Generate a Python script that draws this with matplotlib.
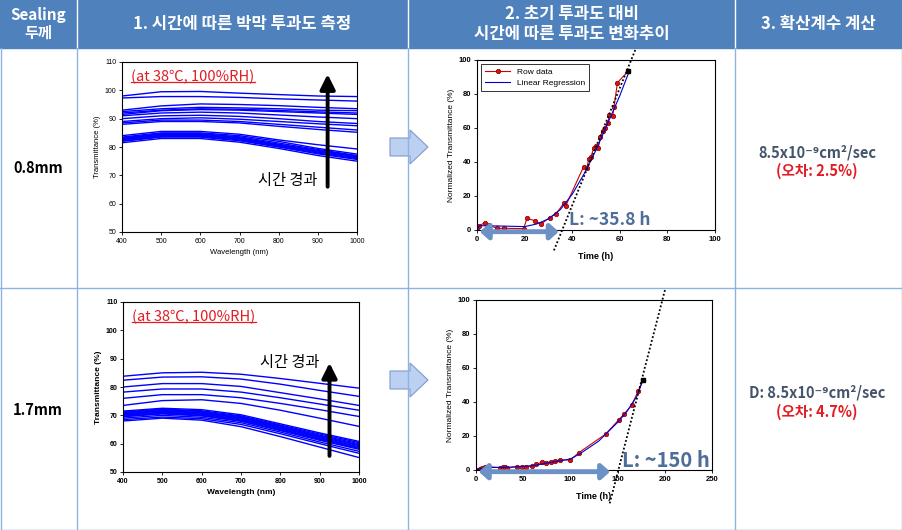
import numpy as np
import matplotlib.pyplot as plt
from matplotlib.patches import Rectangle, Polygon, FancyArrowPatch
from matplotlib.lines import Line2D

plt.rcParams['font.family'] = ['Noto Sans CJK KR', 'DejaVu Sans']

# --- data -------------------------------------------------------------
col_titles = ['Sealing\n두께', '1. 시간에 따른 박막 투과도 측정',
              '2. 초기 투과도 대비\n시간에 따른 투과도 변화추이', '3. 확산계수 계산']
thickness = ['0.8mm', '1.7mm']
diff_coef = ['8.5x10⁻⁹cm²/sec', 'D: 8.5x10⁻⁹cm²/sec']
error_txt = ['(오차: 2.5%)', '(오차: 4.7%)']
lag_labels = ['L: ~35.8 h', 'L: ~150 h']

wavelength = [400, 500, 600, 700, 800, 900, 1000]
spectra_08 = [
    [98.0, 99.5, 99.6, 99.0, 98.5, 98.0, 97.8],
    [97.3, 97.8, 97.8, 97.5, 97.0, 96.6, 96.2],
    [93.0, 94.5, 95.2, 95.0, 94.6, 94.0, 93.5],
    [92.5, 93.5, 94.0, 93.8, 93.5, 93.0, 92.8],
    [92.0, 93.0, 93.5, 93.3, 92.9, 92.4, 92.0],
    [91.5, 92.8, 93.2, 93.0, 92.5, 92.0, 91.5],
    [91.0, 92.0, 92.3, 92.0, 91.3, 90.6, 90.0],
    [90.0, 91.0, 91.2, 90.8, 90.0, 89.0, 88.3],
    [89.0, 90.0, 90.3, 89.8, 89.0, 88.2, 87.5],
    [88.5, 89.5, 89.5, 89.0, 88.0, 87.0, 86.0],
    [88.0, 89.0, 89.0, 88.5, 87.3, 86.2, 85.2],
    [84.0, 85.5, 85.5, 84.5, 82.5, 80.8, 79.3],
    [83.5, 85.0, 85.0, 84.0, 82.0, 79.5, 77.5],
    [83.2, 84.7, 84.7, 83.6, 81.4, 79.1, 77.0],
    [83.0, 84.5, 84.5, 83.3, 81.0, 78.8, 76.8],
    [82.7, 84.2, 84.2, 83.0, 80.7, 78.5, 76.5],
    [82.5, 84.0, 84.0, 82.8, 80.5, 78.2, 76.2],
    [82.2, 83.7, 83.7, 82.5, 80.2, 77.9, 75.9],
    [82.0, 83.5, 83.5, 82.2, 80.0, 77.6, 75.6],
    [81.5, 83.0, 83.0, 81.7, 79.5, 77.0, 75.0],
]
spectra_17 = [
    [83.8, 85.0, 85.2, 84.5, 83.0, 81.3, 79.6],
    [82.4, 83.5, 83.6, 82.8, 81.0, 78.8, 76.7],
    [80.0, 81.2, 81.2, 80.2, 78.0, 75.8, 73.5],
    [78.2, 79.3, 79.3, 78.2, 76.2, 74.0, 71.8],
    [76.0, 77.3, 77.3, 76.2, 74.2, 72.0, 69.6],
    [73.5, 75.2, 75.5, 74.2, 71.8, 69.0, 66.1],
    [71.5, 72.5, 72.0, 70.2, 67.0, 63.8, 60.8],
    [71.2, 72.2, 71.6, 69.8, 66.6, 63.4, 60.4],
    [71.0, 72.0, 71.3, 69.5, 66.3, 63.0, 60.0],
    [70.7, 71.7, 71.0, 69.2, 66.0, 62.7, 59.6],
    [70.5, 71.5, 70.8, 69.0, 65.8, 62.4, 59.3],
    [70.2, 71.2, 70.5, 68.7, 65.5, 62.1, 58.9],
    [70.0, 71.0, 70.3, 68.4, 65.2, 61.8, 58.6],
    [69.7, 70.7, 70.0, 68.1, 64.9, 61.5, 58.3],
    [69.5, 70.5, 69.8, 67.9, 64.6, 61.2, 58.0],
    [69.0, 70.0, 69.3, 67.4, 64.1, 60.6, 57.3],
    [68.5, 69.4, 68.8, 66.8, 63.5, 60.0, 56.6],
    [68.0, 69.0, 68.3, 66.0, 62.5, 58.8, 55.1],
]

time_08 = [0, 1, 3.2, 4.9, 8.4, 11.2, 19.6, 21, 24.2, 26.9, 30.5, 33.1, 36.5, 37.3,
           44.8, 46.2, 46.9, 47.8, 49, 49.9, 51, 51.7, 52.9, 53.8, 55, 55.5, 57,
           57.6, 59, 63.6]
norm_08 = [0, 2.5, 4.3, 2.9, 1, 1, 0.8, 6.9, 5.5, 3.5, 7.3, 9.4, 15.7, 14.3,
           37.3, 36.3, 41.6, 42.7, 48, 49.4, 48.2, 54.9, 58.2, 59.8, 63, 67.6, 67,
           72.5, 86.7, 93.5]
fit_t_08 = [0, 1, 5, 20, 25, 30, 35, 40, 45, 50, 55, 60, 64]
fit_v_08 = [0, 2.5, 2.5, 2, 3.5, 6.5, 12, 21, 33, 47, 63, 79, 93.5]

time_17 = [0, 2.5, 4, 6, 9.5, 11, 25.5, 29, 31, 33, 43, 48.5, 53, 59, 63.6, 70,
           74, 79, 84, 89, 100, 109, 137.5, 151, 157, 165, 172, 177]
norm_17 = [0, 0, 0.5, 1, 2, 2, 1.4, 1.6, 2, 1, 2, 2, 2, 2.4, 3.3, 4.5, 4.1, 4.9,
           5.3, 5.9, 5.9, 10.2, 21.2, 29.4, 33, 38.2, 46.7, 53]
fit_t_17 = [0, 10, 30, 60, 80, 100, 110, 130, 150, 160, 170, 177]
fit_v_17 = [0, 1.5, 1.5, 2.5, 4.5, 6.5, 9.5, 17, 28, 34.5, 43, 53]

lag_08, slope_08 = 35.8, 3.45
lag_17, slope_17 = 150.8, 2.145

W, H = 902, 530
fig = plt.figure(figsize=(W / 100, H / 100), dpi=100)

# --- table background ------------------------------------------------
bg = fig.add_axes([0, 0, 1, 1])
bg.set_xlim(0, W)
bg.set_ylim(H, 0)
bg.axis('off')

col_x = [0, 77, 408, 735, W]
row_y = [0, 48, 288, H]
border = '#8db3e2'
bg.add_patch(Rectangle((0, 0), W, row_y[1], color='#4f81bd', zorder=0))

# block arrows between columns 2 and 3
for yc in [147, 380]:
    pts = [(390, yc - 9), (410, yc - 9), (410, yc - 17), (428, yc),
           (410, yc + 17), (410, yc + 9), (390, yc + 9)]
    bg.add_patch(Polygon(pts, closed=True, facecolor='#bcd0f2',
                         edgecolor='#7f9bcc', lw=0.8, zorder=1))

for x in col_x[1:-1]:
    bg.plot([x, x], [0, row_y[1]], color='white', lw=1, zorder=2)
    bg.plot([x, x], [row_y[1], H], color=border, lw=1, zorder=2)
bg.plot([0, W], [row_y[2], row_y[2]], color=border, lw=1, zorder=2)
bg.plot([0, W], [H - 0.5, H - 0.5], color=border, lw=1, zorder=2)
bg.plot([0.5, 0.5], [row_y[1], H], color=border, lw=1, zorder=2)
bg.plot([W - 0.5, W - 0.5], [row_y[1], H], color=border, lw=1, zorder=2)

hdr_x = [38, 242, 572, 818]
for x, t in zip(hdr_x, col_titles):
    bg.text(x, 24, t, ha='center', va='center', color='white',
            fontsize=11 if x == 38 else 12, fontweight='bold', linespacing=1.15)

row_c = [168, 410]
for i in range(2):
    bg.text(38, row_c[i], thickness[i], ha='center', va='center',
            fontsize=10.5, fontweight='bold')
d_y = [152, 393]
for i in range(2):
    bg.text(817, d_y[i], diff_coef[i], ha='center', va='center',
            fontsize=10.5, fontweight='bold', color='#44546a')
    bg.text(817, d_y[i] + 19, error_txt[i], ha='center', va='center',
            fontsize=10.5, fontweight='bold', color='#e31b23')


def px_axes(x0, y0, x1, y1):
    return fig.add_axes([x0 / W, 1 - y1 / H, (x1 - x0) / W, (y1 - y0) / H])


def style(ax, fs=5, bold=False):
    for s in ax.spines.values():
        s.set_linewidth(0.8)
    ax.tick_params(labelsize=fs, length=2, width=0.6, pad=2)
    for lab in ax.get_xticklabels() + ax.get_yticklabels():
        lab.set_family(['Liberation Sans', 'DejaVu Sans'])
        if bold:
            lab.set_fontweight('bold')


red_notes = []


def spectrum_panel(box, spectra, arrow_y, text_y, bold):
    ax = px_axes(*box)
    for curve in spectra:
        ax.plot(wavelength, curve, color='#0000ff', lw=1.0)
    ax.set_xlim(400, 1000)
    ax.set_ylim(50, 110)
    ax.set_xticks(range(400, 1001, 100))
    ax.set_yticks(range(50, 111, 10))
    fam = ['Liberation Sans', 'DejaVu Sans']
    fw = 'bold' if bold else 'normal'
    ax.set_xlabel('Wavelength (nm)', fontsize=6 if bold else 5.5, family=fam,
                  fontweight=fw, labelpad=3)
    ax.set_ylabel('Transmittance (%)', fontsize=6 if bold else 5.5, family=fam,
                  fontweight=fw, labelpad=3)
    style(ax, 5, bold)
    ax.annotate('', xy=(925, arrow_y[1]), xytext=(925, arrow_y[0]),
                arrowprops=dict(arrowstyle='-|>,head_length=0.9,head_width=0.45',
                                lw=2.8, color='black'))
    ax.text(898, text_y, '시간 경과', ha='right', va='center', fontsize=11)
    t = ax.text(0.04, 0.915, '(at 38℃, 100%RH)', transform=ax.transAxes,
                ha='left', va='center', fontsize=10.5, color='#e31b23',
                family=['Noto Sans CJK KR', 'DejaVu Sans'])
    red_notes.append(t)
    return ax


spectrum_panel((122, 62, 357, 232), spectra_08, (65, 106.7), 68, False)
spectrum_panel((123, 302, 359, 472), spectra_17, (54.7, 89.5), 88.5, True)


def kinetics_panel(box, t, v, ft, fv, lag, slope, xmax, xstep, label, lab_xy,
                   lab_fs, arrow_end, legend):
    ax = px_axes(*box)
    ax.plot(t, v, color='#d00000', lw=0.8, marker='o', ms=3.2,
            mfc='#e01010', mec='#800000', mew=0.5, label='Row data')
    ax.plot(ft, fv, color='#0000cc', lw=0.8, label='Linear Regression')
    ax.plot(t[-1], v[-1], marker='s', ms=3, color='black')
    ylo, yhi = -12 if xmax < 200 else -19.6, 105.9
    ax.plot([lag + ylo / slope, lag + yhi / slope], [ylo, yhi], color='black',
            lw=1.3, ls=(0, (1, 1.2)), clip_on=False)
    ax.add_patch(FancyArrowPatch((0, -1), (arrow_end, -1),
                                 arrowstyle='<|-|>,head_length=5,head_width=4.5',
                                 lw=3.5, color='#6c91c6', clip_on=False,
                                 mutation_scale=1, zorder=5))
    ax.text(lab_xy[0], lab_xy[1], label, fontsize=lab_fs, fontweight='bold',
            color='#4e6d99', ha='left', va='bottom',
            family=['Noto Sans CJK KR', 'DejaVu Sans'])
    ax.set_xlim(0, xmax)
    ax.set_ylim(0, 100)
    ax.set_xticks(np.arange(0, xmax + 1, xstep))
    ax.set_yticks(range(0, 101, 20))
    fam = ['Liberation Sans', 'DejaVu Sans']
    ax.set_xlabel('Time (h)', fontsize=6.5, family=fam, fontweight='bold',
                  labelpad=7)
    ax.set_ylabel('Normalized Transmittance (%)', fontsize=6, family=fam,
                  labelpad=3)
    style(ax, 5.5, True)
    if legend:
        leg = ax.legend(loc='upper left', frameon=True,
                        fancybox=False, edgecolor='black', handlelength=3,
                        borderpad=0.5, labelspacing=0.35,
                        prop={'family': fam, 'size': 6})
        leg.get_frame().set_linewidth(0.7)
    return ax


kinetics_panel((477, 60, 715, 230), time_08, norm_08, fit_t_08, fit_v_08,
               lag_08, slope_08, 100, 20, lag_labels[0], (38.5, 0.5), 12.5, 35.5,
               True)
kinetics_panel((476, 300, 712, 470), time_17, norm_17, fit_t_17, fit_v_17,
               lag_17, slope_17, 250, 50, lag_labels[1], (155, -0.5), 14.5, 145,
               False)

# underline the red condition notes
fig.canvas.draw()
inv = fig.transFigure.inverted()
for t in red_notes:
    bb = t.get_window_extent().transformed(inv)
    fig.add_artist(Line2D([bb.x0, bb.x1], [bb.y0 + 0.004, bb.y0 + 0.004],
                          transform=fig.transFigure, color='#e31b23', lw=0.9))

fig.savefig('out.png', dpi=100)
